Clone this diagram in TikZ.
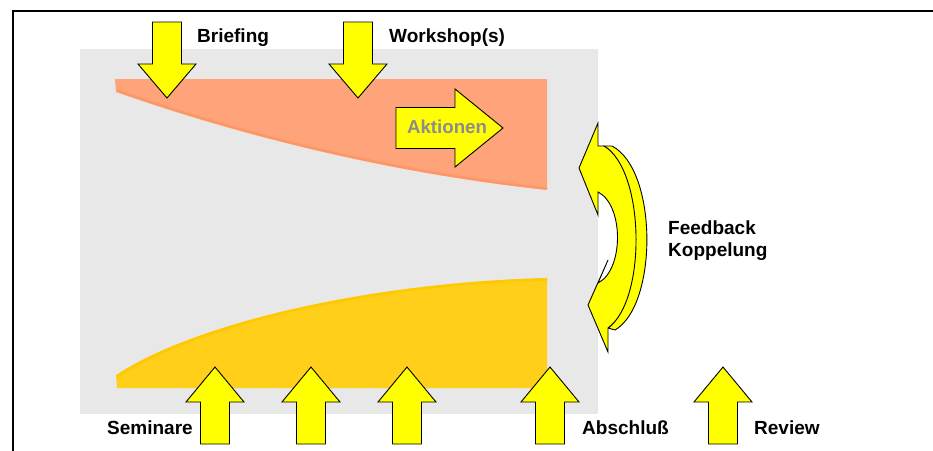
\documentclass[tikz,border=0pt]{standalone}
\usepackage{fontspec}
\setmainfont{Liberation Sans}
\definecolor{panelgray}{RGB}{232,232,232}
\definecolor{salmonfill}{RGB}{255,164,122}
\definecolor{salmonedge}{RGB}{255,150,100}
\definecolor{goldfill}{RGB}{255,207,25}
\definecolor{goldedge}{RGB}{255,200,0}
\definecolor{arrowyellow}{RGB}{255,255,0}
\tikzset{
  blockarrow/.style={fill=arrowyellow, draw=black, line width=0.9pt, line join=miter},
  lbl/.style={font=\fontsize{19}{22}\selectfont\bfseries, inner sep=0pt, anchor=base west},
  pics/uparr/.style={code={
    \path[blockarrow] (0,0) -- (29,35) -- (14.5,35) -- (14.5,77) -- (-14.5,77) -- (-14.5,35) -- (-29,35) -- cycle;
  }},
  pics/downarr/.style={code={
    \path[blockarrow] (0,0) -- (29,-34) -- (14.5,-34) -- (14.5,-76) -- (-14.5,-76) -- (-14.5,-34) -- (-29,-34) -- cycle;
  }},
}
\begin{document}
\begin{tikzpicture}[x=1pt,y=-1pt]
\useasboundingbox (0,0) rectangle (933,450);
% frame
\draw[line width=2pt, line cap=rect] (933,10.5) -- (12.5,10.5) -- (12.5,452);
% gray panel
\fill[panelgray] (80,49) rectangle (598,414);
% salmon band
\fill[salmonfill] (115,79) -- (547,79) -- (547,190) .. controls (380,172) and (230,132) .. (116,92) -- cycle;
\draw[salmonedge, line width=2.5pt] (547,188.5) .. controls (380,170.5) and (230,130.5) .. (117,90.5);
% gold band
\fill[goldfill] (117,388) -- (547,388) -- (547,278) .. controls (380,282) and (200,320) .. (116,375) -- cycle;
\draw[goldedge, line width=2.5pt] (547,279.5) .. controls (380,283.5) and (200,321.5) .. (117,376.5);
% down arrows
\pic at (167,98) {downarr};
\pic at (358,98) {downarr};
% Aktionen arrow
\path[blockarrow] (503,128) -- (455,89) -- (455,107.5) -- (396,107.5) -- (396,148.5) -- (455,148.5) -- (455,167) -- cycle;
\node[font=\fontsize{18.7}{22}\selectfont\bfseries, text=black!45, inner sep=0pt, anchor=base] (akt) at (447,133.3) {Aktionen};
% up arrows
\pic at (215,367) {uparr};
\pic at (311,367) {uparr};
\pic at (407,367) {uparr};
\pic at (550,367) {uparr};
\pic at (723,367) {uparr};
% feedback arrow: extrusion
\path[blockarrow] (604,146) -- (612,146) .. controls (658,170) and (658,305) .. (615,330) -- (608,328) .. controls (645,300) and (643,170) .. (604,146) -- cycle;
% feedback arrow: front face
\path[blockarrow] (598,123) -- (579,168) -- (598,215) -- (598,192) .. controls (624,205) and (624,270) .. (598,283) -- (608,260) -- (588,305) -- (608,352) -- (608,328) .. controls (647,300) and (645,170) .. (604,146) -- (598,146) -- cycle;
% labels
\node[lbl] (briefing) at (197,42) {Briefing};
\node[lbl] (workshop) at (389,42) {Workshop(s)};
\node[lbl] (seminare) at (107,434) {Seminare};
\node[lbl] (abschluss) at (582,434) {Abschluß};
\node[lbl] (review) at (754,434) {Review};
\node[lbl] (feedback) at (668,234) {Feedback};
\node[lbl] (koppelung) at (668,256) {Koppelung};
\end{tikzpicture}
\end{document}
